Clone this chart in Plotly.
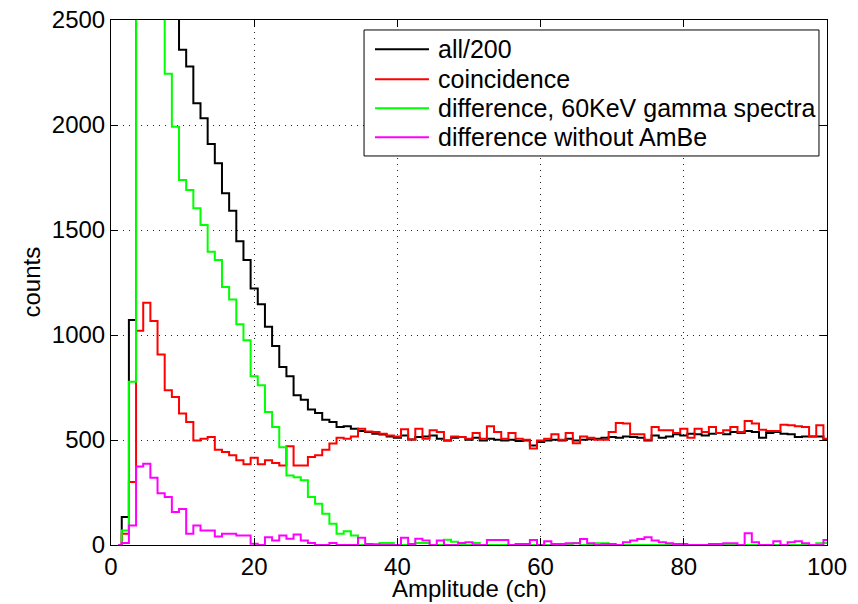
import plotly.graph_objects as go

channels = list(range(1, 101))

all_200 = [0, 133, 1071, 9000, 7500, 5500, 4200, 3300, 2700, 2358,
           2278, 2104, 2032, 1910, 1818, 1675, 1592, 1447, 1357, 1222,
           1147, 1039, 948, 848, 803, 713, 692, 645, 629, 597,
           586, 562, 565, 554, 543, 538, 530, 526, 517, 511,
           522, 502, 514, 517, 522, 506, 498, 511, 514, 501,
           511, 498, 506, 501, 498, 501, 495, 498, 474, 490,
           498, 501, 498, 506, 498, 501, 504, 506, 511, 514,
           511, 517, 514, 511, 498, 522, 511, 517, 527, 522,
           530, 527, 522, 530, 533, 527, 538, 533, 543, 538,
           511, 533, 538, 530, 527, 514, 517, 517, 517, 501]

coincidence = [0, 53, 300, 1020, 1153, 1067, 907, 737, 705, 626,
               586, 498, 506, 514, 454, 443, 427, 403, 384, 416,
               384, 403, 390, 379, 470, 379, 379, 419, 427, 454,
               483, 511, 506, 517, 554, 541, 538, 530, 522, 517,
               551, 502, 554, 506, 546, 538, 498, 517, 514, 506,
               533, 506, 565, 538, 506, 533, 506, 501, 459, 498,
               506, 527, 501, 533, 485, 517, 511, 501, 501, 538,
               581, 578, 527, 527, 501, 562, 546, 546, 533, 554,
               511, 554, 538, 562, 533, 546, 562, 538, 590, 578,
               549, 543, 543, 573, 570, 565, 562, 517, 570, 506]

difference_60kev = [0, 69, 777, 12000, 9000, 6000, 3500, 2244, 1992, 1738,
                    1690, 1603, 1524, 1396, 1357, 1229, 1169, 1051, 975, 803,
                    761, 633, 562, 466, 331, 323, 308, 228, 196, 149,
                    101, 53, 66, 45, 0, 0, 0, 10, 10, 0,
                    0, 0, 10, 10, 0, 0, 25, 15, 0, 0,
                    10, 0, 0, 0, 0, 0, 0, 5, 0, 0,
                    0, 0, 0, 0, 10, 0, 0, 8, 8, 0,
                    0, 0, 0, 0, 0, 0, 0, 0, 0, 0,
                    0, 0, 0, 0, 0, 0, 0, 0, 0, 0,
                    0, 0, 0, 0, 0, 0, 0, 0, 8, 10]

difference_no_ambe = [0, 10, 93, 374, 387, 320, 247, 228, 157, 172,
                      53, 93, 69, 69, 40, 53, 53, 45, 45, 6,
                      0, 37, 21, 45, 30, 50, 21, 9, 0, 0,
                      9, 0, 0, 0, 34, 5, 3, 0, 0, 0,
                      34, 5, 30, 21, 0, 21, 0, 0, 9, 13,
                      0, 0, 24, 24, 24, 0, 5, 5, 24, 0,
                      18, 5, 5, 8, 8, 29, 8, 0, 5, 5,
                      0, 13, 21, 29, 37, 21, 13, 8, 5, 5,
                      0, 0, 0, 5, 5, 8, 8, 0, 56, 13,
                      0, 0, 18, 0, 13, 18, 8, 0, 0, 24]

series_names = ["all/200", "coincidence",
                "difference, 60KeV gamma spectra", "difference without AmBe"]
series_values = [all_200, coincidence, difference_60kev, difference_no_ambe]
series_colors = ["#000000", "#ff0000", "#00ff00", "#ff00ff"]

x_ticks = [0, 20, 40, 60, 80, 100]
y_ticks = [0, 500, 1000, 1500, 2000, 2500]

FONT = "Liberation Sans, Arial, Helvetica, sans-serif"

fig = go.Figure()
for name, vals, color in zip(series_names, series_values, series_colors):
    fig.add_trace(go.Scatter(
        x=channels, y=vals, name=name, mode="lines",
        line=dict(color=color, width=2, shape="hvh"),
        showlegend=False,
    ))

axis_common = dict(
    showline=True, linecolor="black", linewidth=1, mirror="ticks",
    ticks="inside", ticklen=7, tickcolor="black", tickwidth=1,
    showgrid=True, gridcolor="#222222", gridwidth=1, griddash="1px,5px",
    zeroline=False, automargin=False, ticklabeloverflow="allow",
    tickfont=dict(family=FONT, size=24, color="black"),
)

# Legend box drawn in paper coordinates (MATLAB-style legend)
leg_x0, leg_x1, leg_y0, leg_y1 = 0.3534, 0.9888, 0.741, 0.981
row_y = [0.9442, 0.8871, 0.8319, 0.7766]
shapes = [dict(type="rect", xref="paper", yref="paper",
               x0=leg_x0, x1=leg_x1, y0=leg_y0, y1=leg_y1,
               line=dict(color="black", width=1), fillcolor="white", layer="above")]
annotations = []
for name, color, ry in zip(series_names, series_colors, row_y):
    shapes.append(dict(type="line", xref="paper", yref="paper",
                       x0=0.3687, x1=0.4441, y0=ry, y1=ry,
                       line=dict(color=color, width=2), layer="above"))
    annotations.append(dict(xref="paper", yref="paper", x=0.4539, y=ry,
                            xanchor="left", yanchor="middle", showarrow=False,
                            text=name, font=dict(family=FONT, size=25, color="black")))

annotations.append(dict(xref="paper", yref="paper", x=0.5, y=-0.0820,
                        xanchor="center", yanchor="middle", showarrow=False,
                        text="Amplitude (ch)", font=dict(family=FONT, size=24, color="black")))
annotations.append(dict(xref="paper", yref="paper", x=-0.1117, y=0.5,
                        xanchor="center", yanchor="middle", showarrow=False, textangle=-90,
                        text="counts", font=dict(family=FONT, size=24, color="black")))

# The page body adds an 8px offset, so the figure is sized to fill the rest of the window
fig.update_layout(
    width=850, height=596,
    margin=dict(l=103, r=31, t=12, b=59, autoexpand=False),
    paper_bgcolor="white", plot_bgcolor="white",
    font=dict(family=FONT, size=24, color="black"),
    xaxis=dict(range=[0, 100], tickvals=x_ticks, **axis_common),
    yaxis=dict(range=[0, 2500], tickvals=y_ticks, **axis_common),
    shapes=shapes,
    annotations=annotations,
    showlegend=False,
)

fig.write_html("out.html")
